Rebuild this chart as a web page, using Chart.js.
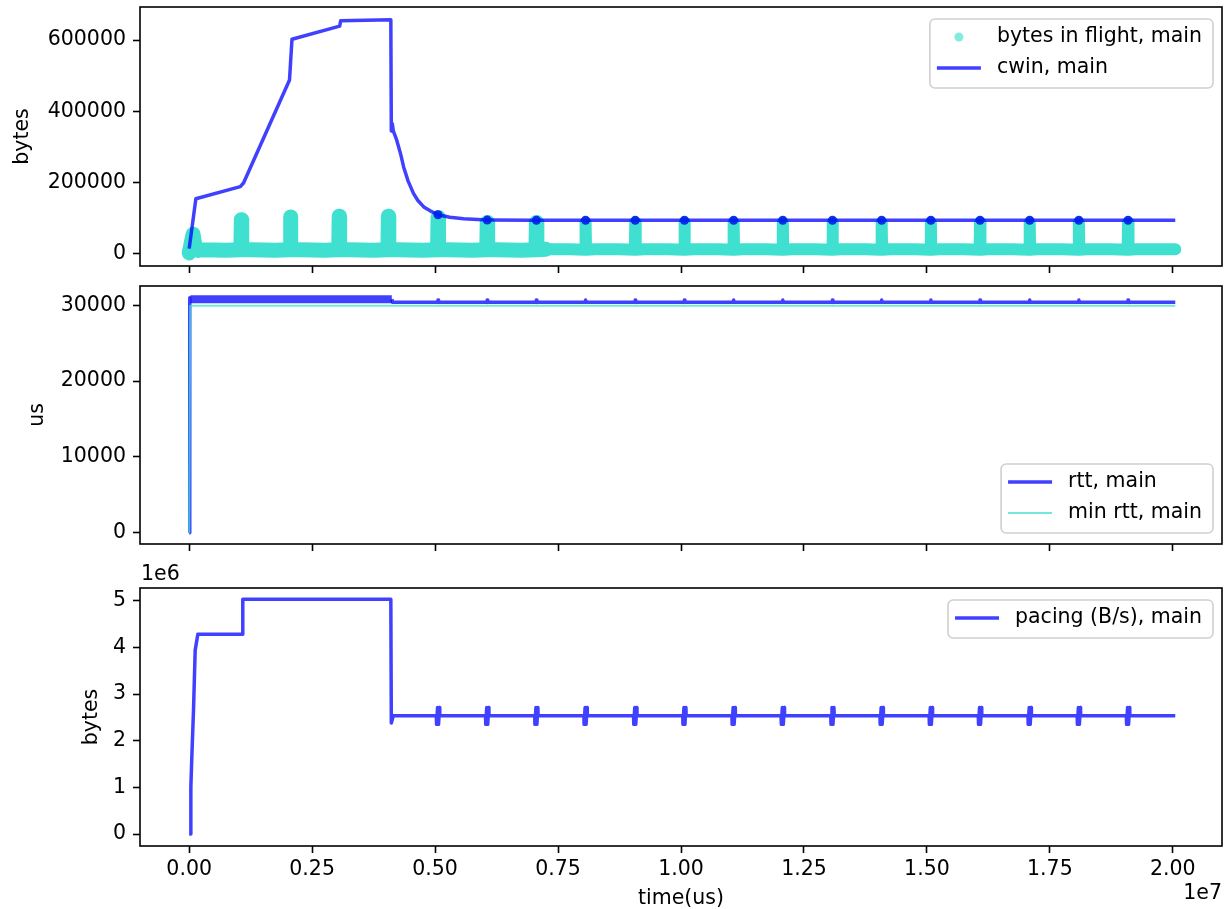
<!DOCTYPE html>
<html>
<head>
<meta charset="utf-8">
<title>cwin / rtt / pacing trace</title>
<script src="https://cdn.jsdelivr.net/npm/chart.js@4.4.1/dist/chart.umd.min.js"></script>
<style>
  html, body { margin: 0; padding: 0; background: #ffffff; }
  #figure { position: relative; width: 1225px; height: 909px; }
  .panel { position: absolute; left: 0; width: 1225px; }
  .panel canvas { display: block; }
  #panel-bytes { top: 0; }
  #panel-rtt { top: 276px; }
  #panel-pacing { top: 556px; }
</style>
</head>
<body>
<div id="figure">
  <div class="panel" id="panel-bytes"><canvas id="bytesChart" width="1225" height="276"></canvas></div>
  <div class="panel" id="panel-rtt"><canvas id="rttChart" width="1225" height="280"></canvas></div>
  <div class="panel" id="panel-pacing"><canvas id="pacingChart" width="1225" height="353"></canvas></div>
</div>
<script>
// ---- data (time in us) ----

const timeTicks = [0, 2.5e6, 5e6, 7.5e6, 10e6, 12.5e6, 15e6, 17.5e6, 20e6];
const TIME_MIN = -1.0e6, TIME_MAX = 2.1e7;

// loss / probe events, roughly once a second
const lossTimes = [1.06e6, 2.06e6, 3.05e6, 4.05e6, 5.06e6, 6.06e6, 7.06e6, 8.06e6, 9.07e6, 10.07e6,
                   11.07e6, 12.07e6, 13.08e6, 14.08e6, 15.08e6, 16.08e6, 17.09e6, 18.09e6, 19.09e6];

// panel 1: bytes
const bytesTicks = [0, 200000, 400000, 600000];
const cwinTimes = [0, 136000, 1.04e6, 1.105e6, 2.04e6, 2.09e6, 3.06e6, 3.08e6, 4.1e6, 4.11e6, 4.13e6, 4.15e6,
                   4.22e6, 4.3e6, 4.36e6, 4.45e6, 4.56e6, 4.65e6, 4.77e6, 4.9e6, 5.3e6, 5.58e6, 6.09e6, 7.0e6, 20.05e6];
const cwinBytes = [15000, 155000, 189000, 199000, 488000, 602000, 639000, 654000, 657000, 345000, 365000, 345000,
                   319000, 280000, 244000, 205000, 170000, 150000, 132000, 121000, 103000, 99000, 95000, 94600, 94600];
// cwin samples that pile up at each late loss event (drawn as dots)
const cwinDotTimes = [5.06e6, 6.06e6, 7.06e6, 8.06e6, 9.07e6, 10.07e6, 11.07e6, 12.07e6, 13.08e6, 14.08e6,
                      15.08e6, 16.08e6, 17.09e6, 18.09e6, 19.09e6];
const cwinDotBytes = [110000, 95000, 94600, 94600, 94600, 94600, 94600, 94600, 94600, 94600,
                      94600, 94600, 94600, 94600, 94600];

const flightStartTimes = [0, 40000, 80000, 120000, 180000];
const flightStartBytes = [3000, 30000, 55000, 20000, 10000];
const flightBandTimes = [0.25e6, 0.75e6, 1.25e6, 1.75e6, 2.25e6, 2.75e6, 3.25e6, 3.75e6, 4.25e6, 4.75e6,
                         5.25e6, 5.75e6, 6.25e6, 6.75e6, 7.25e6, 7.75e6, 8.25e6, 8.75e6, 9.25e6, 9.75e6,
                         10.25e6, 10.75e6, 11.25e6, 11.75e6, 12.25e6, 12.75e6, 13.25e6, 13.75e6, 14.25e6, 14.75e6,
                         15.25e6, 15.75e6, 16.25e6, 16.75e6, 17.25e6, 17.75e6, 18.25e6, 18.75e6, 19.25e6, 19.75e6, 20.05e6];
const flightBandBytes = [12000, 10500, 12000, 10500, 12000, 10500, 12000, 10500, 12000, 10500,
                         12000, 10500, 12000, 10500, 13500, 13000, 13500, 13000, 13500, 13000,
                         13500, 13000, 13500, 13000, 13500, 13000, 13500, 13000, 13500, 13000,
                         13500, 13000, 13500, 13000, 13500, 13000, 13500, 13000, 13500, 13000, 13000];
const flightPeaks = [96000, 104000, 106000, 106000, 102000, 88000, 88000, 88000, 88000, 88000,
                     88000, 88000, 88000, 88000, 88000, 88000, 88000, 88000, 88000];
const FLIGHT_FOOT = 12000;
const FLIGHT_WIDE_END = 7.25e6;   // the low band is a little wider up to here

// panel 2: rtt (us)
const rttTicks = [0, 10000, 20000, 30000];
const rttTimes = [0, 8000, 15000, 25000, 4.12e6, 4.14e6, 20.05e6];
const rttValues = [0, 31000, 30700, 30820, 30820, 30400, 30400];
const RTT_JITTER_END = 4.12e6;   // rtt jitters between ~30400 and ~31200 until here
const RTT_STEADY = 30400, RTT_BUMP = 30700;
const minRttTimes = [0, 20000, 20.05e6];
const minRttValues = [0, 29950, 29950];

// panel 3: pacing (B/s)
const pacingTicks = [0, 1e6, 2e6, 3e6, 4e6, 5e6];
const pacingTimes = [0, 20000, 34000, 54000, 88000, 122000, 176000, 1.075e6, 1.09e6, 4.1e6, 4.11e6, 4.15e6, 20.05e6];
const pacingRates = [0, 0, 1.01e6, 1.66e6, 2.66e6, 3.94e6, 4.28e6, 4.28e6, 5.03e6, 5.03e6, 2.38e6, 2.535e6, 2.535e6];
const PACING_STEADY = 2.535e6, PACING_DIP = 2.35e6, PACING_PEAK = 2.71e6;

// ---- look ----

const THEME = {
    blue: 'rgba(0, 0, 255, 0.75)',
    turquoise: '#40e0d0',
    turquoise_dot: 'rgba(64, 224, 208, 0.65)',
    turquoise_line: 'rgba(64, 224, 208, 0.75)',
    text: '#000000',
    family: "'DejaVu Sans', sans-serif",
    size: 20.5
};
Chart.defaults.font.family = THEME.family;
Chart.defaults.font.size = THEME.size;
Chart.defaults.color = THEME.text;

const PLOT_LEFT = 140, TICK_LEN = 7, LINE_W = 3.5;

function points(xs, ys, extra) { return xs.map((x, i) => Object.assign({ x, y: ys[i] }, extra || {})); }
function by_time(a, b) { return a.x - b.x; }

// --- series assembly ---

const flight_spikes = lossTimes.flatMap((t, i) => [
    { x: t - 9000, y: FLIGHT_FOOT }, { x: t, y: flightPeaks[i] }, { x: t + 9000, y: FLIGHT_FOOT }
]);
const flight_series = points(flightStartTimes, flightStartBytes)
    .concat(points(flightBandTimes, flightBandBytes), flight_spikes).sort(by_time);

const cwin_series = points(cwinTimes, cwinBytes)
    .concat(points(cwinDotTimes, cwinDotBytes, { dot: true })).sort(by_time);

const late_losses = lossTimes.filter(t => t > RTT_JITTER_END + 0.5e6);
const rtt_series = points(rttTimes, rttValues).concat(late_losses.flatMap(t => [
    { x: t - 10000, y: RTT_STEADY }, { x: t, y: RTT_BUMP }, { x: t + 10000, y: RTT_STEADY }
])).sort(by_time);

// pacing wobbles down and up a couple of times around each loss
const pacing_series = points(pacingTimes, pacingRates).concat(late_losses.flatMap(t => [
    { x: t - 35000, y: PACING_STEADY }, { x: t - 30000, y: PACING_DIP }, { x: t - 10000, y: PACING_PEAK },
    { x: t + 10000, y: PACING_DIP }, { x: t + 30000, y: PACING_PEAK }, { x: t + 35000, y: PACING_STEADY }
])).sort(by_time);

// --- plugins: matplotlib style box, framed legend, offset text ---

const framePlugin = {
    id: 'frame',
    afterDatasetsDraw(chart) {
        const { ctx, chartArea: a } = chart;
        ctx.save();
        ctx.strokeStyle = '#000';
        ctx.lineWidth = 1.6;
        ctx.strokeRect(a.left, a.top, a.right - a.left, a.bottom - a.top);
        ctx.restore();
    }
};

const boxLegendPlugin = {
    id: 'boxLegend',
    afterDraw(chart, args, opts) {
        const { ctx, chartArea: a } = chart;
        const items = chart.data.datasets.filter(d => d.label);
        ctx.save();
        ctx.font = `${THEME.size}px ${THEME.family}`;
        const text_w = Math.max(...items.map(d => ctx.measureText(d.label).width));
        const w = 67 + text_w + 11, h = items.length * 31 + 7;
        const left = a.right - 9 - w;
        const top = opts.anchor === 'bottom' ? a.bottom - 11 - h : a.top + 12;

        ctx.beginPath();
        ctx.roundRect(left, top, w, h, 5);
        ctx.fillStyle = 'rgba(255, 255, 255, 0.8)';
        ctx.fill();
        ctx.lineWidth = 1.6;
        ctx.strokeStyle = '#d0d0d0';
        ctx.stroke();

        items.forEach((d, i) => {
            const cy = top + 18 + i * 31;
            if (d.legendHandle === 'dot') {
                ctx.beginPath();
                ctx.arc(left + 29, cy, 4.5, 0, Math.PI * 2);
                ctx.fillStyle = d.legendColor;
                ctx.fill();
            } else {
                ctx.beginPath();
                ctx.moveTo(left + 7, cy);
                ctx.lineTo(left + 51, cy);
                ctx.lineWidth = d.borderWidth;
                ctx.strokeStyle = d.borderColor;
                ctx.stroke();
            }
            ctx.fillStyle = THEME.text;
            ctx.textAlign = 'left';
            ctx.textBaseline = 'middle';
            ctx.fillText(d.label, left + 67, cy);
        });
        ctx.restore();
    }
};

const offsetTextPlugin = {
    id: 'offsetText',
    afterDraw(chart, args, opts) {
        const { ctx, chartArea: a } = chart;
        ctx.save();
        ctx.font = `${THEME.size}px ${THEME.family}`;
        ctx.fillStyle = THEME.text;
        ctx.textBaseline = 'alphabetic';
        if (opts.y) { ctx.textAlign = 'left'; ctx.fillText(opts.y, a.left + 1, a.top - 8); }
        if (opts.x) { ctx.textAlign = 'right'; ctx.fillText(opts.x, a.right, chart.height - 10); }
        ctx.restore();
    }
};

// --- axes ---

function x_axis(show_labels, height) {
    return {
        type: 'linear', position: 'bottom', min: TIME_MIN, max: TIME_MAX, bounds: 'data',
        afterBuildTicks: s => { s.ticks = timeTicks.map(value => ({ value })); },
        afterFit: s => { s.height = height; s.paddingLeft = 0; s.paddingRight = 0; },
        border: { display: false },
        grid: { drawOnChartArea: false, drawTicks: true, tickLength: TICK_LEN, tickWidth: 1.6, tickColor: '#000' },
        ticks: { display: show_labels, padding: 4, maxRotation: 0, autoSkip: false, callback: v => (v / 1e7).toFixed(2) },
        title: { display: show_labels, text: 'time(us)', padding: { top: 0, bottom: 0 }, font: { lineHeight: 1 } }
    };
}

function y_axis({ min, max, ticks, format, title, title_offset }) {
    return {
        type: 'linear', position: 'left', min, max, bounds: 'data',
        afterBuildTicks: s => { s.ticks = ticks.map(value => ({ value })); },
        afterFit: s => { s.width = PLOT_LEFT; s.paddingTop = 0; s.paddingBottom = 0; },
        border: { display: false },
        grid: { drawOnChartArea: false, drawTicks: true, tickLength: TICK_LEN, tickWidth: 1.6, tickColor: '#000' },
        ticks: { padding: 7, autoSkip: false, callback: format },
        title: { display: true, text: title, padding: { top: title_offset, bottom: 0 } }
    };
}

function line_set(label, data, color, width, order, extra) {
    return Object.assign({
        label, data, showLine: true, pointRadius: 0, borderColor: color, backgroundColor: color,
        borderWidth: width, borderJoinStyle: 'round', order
    }, extra || {});
}

function make_panel(canvas_id, cfg) {
    return new Chart(document.getElementById(canvas_id), {
        type: 'scatter',
        data: { datasets: cfg.datasets },
        options: {
            responsive: false, animation: false, events: [],
            layout: { padding: { top: cfg.pad_top, right: 3, left: 0, bottom: 0 }, autoPadding: false },
            plugins: {
                legend: { display: false }, tooltip: { enabled: false },
                boxLegend: { anchor: cfg.legend_anchor },
                offsetText: cfg.offset_text || {}
            },
            scales: { x: x_axis(cfg.x_labels, cfg.x_height), y: y_axis(cfg.y) }
        },
        plugins: [framePlugin, boxLegendPlugin, offsetTextPlugin]
    });
}

// --- the three panels ---

make_panel('bytesChart', {
    pad_top: 7, x_labels: false, x_height: 10, legend_anchor: 'top',
    y: { min: -33700, max: 692600, ticks: bytesTicks, format: v => String(v), title: 'bytes', title_offset: 10.5 },
    datasets: [
        line_set('bytes in flight, main', flight_series, THEME.turquoise, 12, 1, {
            borderCapStyle: 'round', legendHandle: 'dot', legendColor: THEME.turquoise_dot,
            segment: { borderWidth: c => c.p1.parsed.x <= FLIGHT_WIDE_END ? 15 : undefined }
        }),
        line_set('cwin, main', cwin_series, THEME.blue, LINE_W, 0, {
            pointRadius: c => (c.raw && c.raw.dot) ? 4.5 : 0, pointBorderWidth: 0,
            pointBackgroundColor: 'rgba(0, 30, 235, 0.9)'
        })
    ]
});

make_panel('rttChart', {
    pad_top: 10, x_labels: false, x_height: 12, legend_anchor: 'bottom',
    y: { min: -1500, max: 32560, ticks: rttTicks, format: v => String(v), title: 'us', title_offset: 25 },
    datasets: [
        line_set('rtt, main', rtt_series, THEME.blue, LINE_W, 1, {
            // the jitter band of the first 4 s is drawn as a wide stroke
            segment: { borderWidth: c => (c.p0.parsed.x >= 20000 && c.p1.parsed.x <= RTT_JITTER_END) ? 8 : undefined }
        }),
        line_set('min rtt, main', points(minRttTimes, minRttValues), THEME.turquoise_line, 2, 0)
    ]
});

make_panel('pacingChart', {
    pad_top: 32, x_labels: true, x_height: 63, legend_anchor: 'top',
    offset_text: { y: '1e6', x: '1e7' },
    y: { min: -0.257e6, max: 5.272e6, ticks: pacingTicks, format: v => String(v / 1e6), title: 'bytes', title_offset: 79 },
    datasets: [
        line_set('pacing (B/s), main', pacing_series, THEME.blue, LINE_W, 0)
    ]
});
</script>
</body>
</html>
